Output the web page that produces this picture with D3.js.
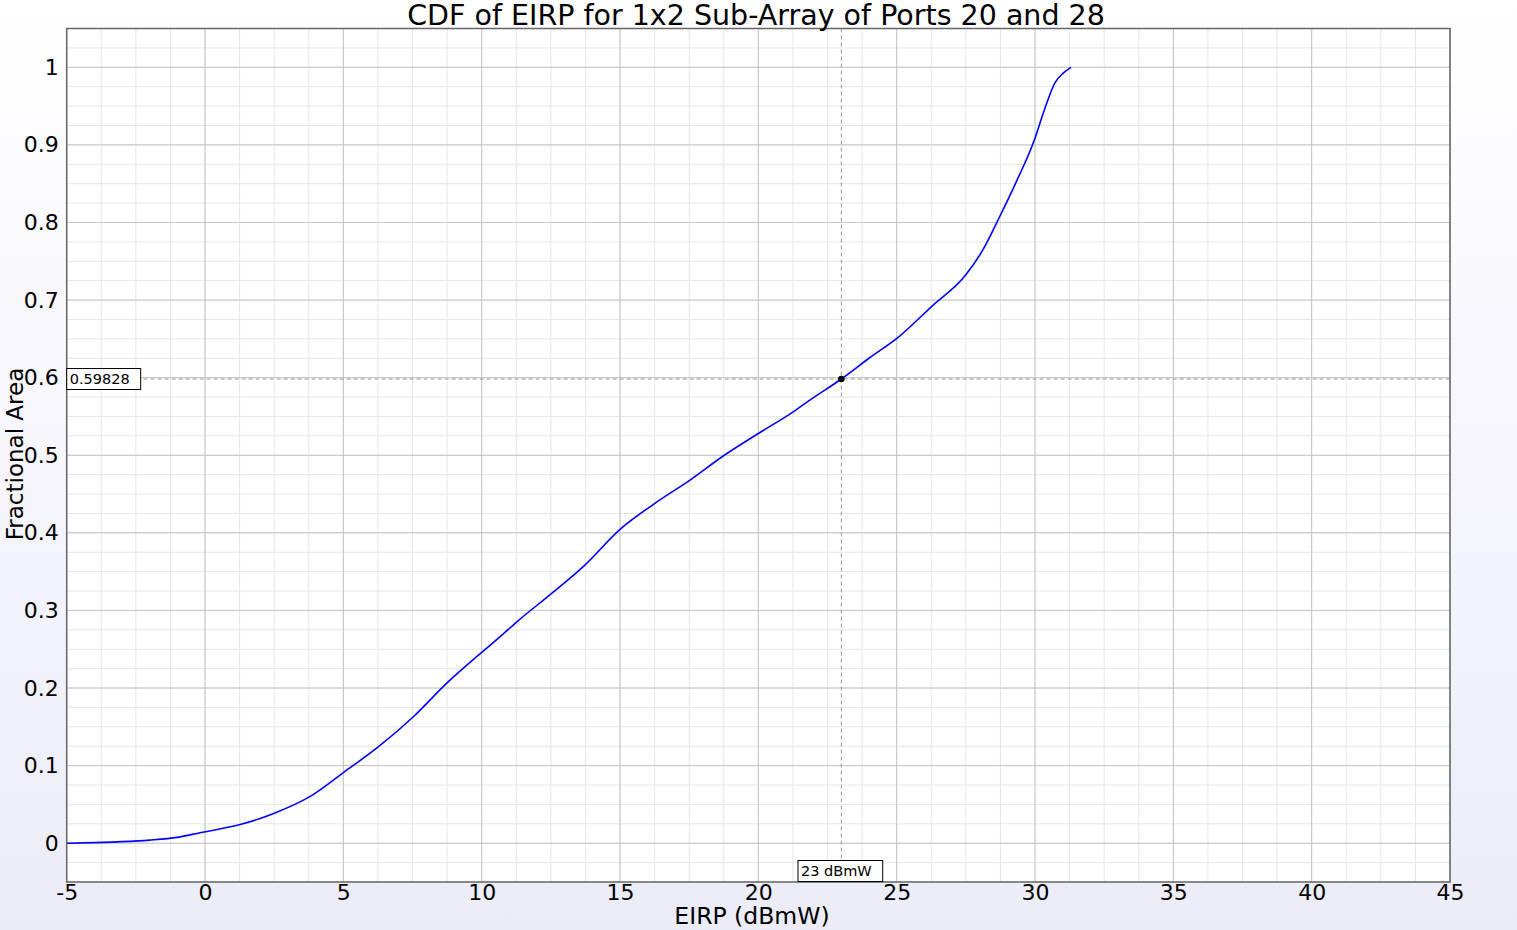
<!DOCTYPE html>
<html><head><meta charset="utf-8">
<script src="https://cdn.jsdelivr.net/npm/d3@7"></script>
<style>html,body{margin:0;padding:0;overflow:hidden;}</style>
</head><body>
<script>
const eirp = [-5, -4, -3, -2, -1, -0.18, 1.27, 2.53, 3.77, 5, 6.26, 7.53, 8.73, 10, 10.66, 11.26, 12.53, 13.73, 15, 16.26, 17.53, 18.73, 20, 21.26, 21.86, 23, 24, 25.12, 26.26, 27.5, 28.12, 28.73, 29.33, 30, 30.3, 30.72, 31.02, 31.3];
const cdf  = [0, 0.0008, 0.002, 0.004, 0.0075, 0.0135, 0.024, 0.039, 0.0597, 0.091, 0.124, 0.163, 0.206, 0.246, 0.266, 0.285, 0.322, 0.3585, 0.4045, 0.438, 0.468, 0.499, 0.528, 0.556, 0.571, 0.59828, 0.625, 0.654, 0.6916, 0.7325, 0.765, 0.808, 0.853, 0.9086, 0.941, 0.98, 0.9925, 1.0];
const xTicks = [-5, 0, 5, 10, 15, 20, 25, 30, 35, 40, 45];
const yTicks = [0, 0.1, 0.2, 0.3, 0.4, 0.5, 0.6, 0.7, 0.8, 0.9, 1];
const markerX = 23, markerY = 0.59828;
const markerXLabel = "23 dBmW", markerYLabel = "0.59828";
const titleText = "CDF of EIRP for 1x2 Sub-Array of Ports 20 and 28";
const xLabel = "EIRP (dBmW)", yLabel = "Fractional Area";

const W = 1517, H = 930;
const m = {l: 66.7, r: 1450, t: 28.5, b: 882};
const svg = d3.select("body").append("svg").attr("width", W).attr("height", H)
  .style("font-family", "DejaVu Sans, sans-serif");
const defs = svg.append("defs");
const g = defs.append("linearGradient").attr("id","bg").attr("x1",0).attr("y1",0).attr("x2",0).attr("y2",1);
g.append("stop").attr("offset","0%").attr("stop-color","#ffffff");
g.append("stop").attr("offset","100%").attr("stop-color","#ececf8");
svg.append("rect").attr("width",W).attr("height",H).attr("fill","url(#bg)");

const x = d3.scaleLinear().domain([-5, 45]).range([m.l, m.r]);
const y = d3.scaleLinear().domain([-0.05, 1.05]).range([m.b, m.t]);

svg.append("rect").attr("x",m.l).attr("y",m.t).attr("width",m.r-m.l).attr("height",m.b-m.t).attr("fill","#fff");

// minor grid
const xMinor = d3.range(-5, 45.001, 1.25);
const yMinor = d3.range(-0.05, 1.0501, 0.025);
svg.append("g").selectAll("line").data(xMinor).join("line")
  .attr("x1",d=>x(d)).attr("x2",d=>x(d)).attr("y1",m.t).attr("y2",m.b)
  .attr("stroke","#e6e6e6").attr("stroke-width",1);
svg.append("g").selectAll("line").data(yMinor).join("line")
  .attr("y1",d=>y(d)).attr("y2",d=>y(d)).attr("x1",m.l).attr("x2",m.r)
  .attr("stroke","#e6e6e6").attr("stroke-width",1);
// major grid
svg.append("g").selectAll("line").data(xTicks).join("line")
  .attr("x1",d=>x(d)).attr("x2",d=>x(d)).attr("y1",m.t).attr("y2",m.b)
  .attr("stroke","#c4c4c4").attr("stroke-width",1);
svg.append("g").selectAll("line").data(yTicks).join("line")
  .attr("y1",d=>y(d)).attr("y2",d=>y(d)).attr("x1",m.l).attr("x2",m.r)
  .attr("stroke","#c4c4c4").attr("stroke-width",1);

// axes
const xa = svg.append("g").attr("transform",`translate(0,${m.b})`)
  .call(d3.axisBottom(x).tickValues(xTicks).tickSize(0).tickPadding(2).tickFormat(d=>String(d)));
xa.select(".domain").remove();
xa.selectAll("text").attr("font-size",22).attr("fill","#000").attr("font-family","DejaVu Sans, sans-serif");
const ya = svg.append("g").attr("transform",`translate(${m.l},0)`)
  .call(d3.axisLeft(y).tickValues(yTicks).tickSize(0).tickPadding(8).tickFormat(d=>d===0?"0":d===1?"1":d3.format(".1f")(d)));
ya.select(".domain").remove();
ya.selectAll("text").attr("font-size",22).attr("fill","#000").attr("font-family","DejaVu Sans, sans-serif");

// marker lines
svg.append("line").attr("x1",m.l).attr("x2",m.r).attr("y1",y(markerY)).attr("y2",y(markerY))
  .attr("stroke","#999").attr("stroke-dasharray","4,3").attr("stroke-width",1);
svg.append("line").attr("x1",x(markerX)).attr("x2",x(markerX)).attr("y1",m.t).attr("y2",m.b)
  .attr("stroke","#999").attr("stroke-dasharray","4,3").attr("stroke-width",1);

// curve
const pts = eirp.map((v,i)=>[v,cdf[i]]);
svg.append("path").datum(pts)
  .attr("d", d3.line().x(d=>x(d[0])).y(d=>y(d[1])).curve(d3.curveMonotoneX))
  .attr("fill","none").attr("stroke","#0000ff").attr("stroke-width",1.6);

svg.append("circle").attr("cx",x(markerX)).attr("cy",y(markerY)).attr("r",3.2).attr("fill","#000");

// border
svg.append("rect").attr("x",m.l).attr("y",m.t).attr("width",m.r-m.l).attr("height",m.b-m.t)
  .attr("fill","none").attr("stroke","#666").attr("stroke-width",1.5);

// annotation boxes
function box(cx, cy, text, anchorLeft) {
  const bg = svg.append("g");
  const r = bg.append("rect");
  const t = bg.append("text").attr("font-size",14.5).attr("fill","#000").text(text);
  const w = t.node().getComputedTextLength();
  const bw = w + 14, bh = 21;
  const bx = anchorLeft ? cx : cx - bw/2;
  r.attr("x",bx).attr("y",cy-bh/2).attr("width",bw).attr("height",bh)
    .attr("fill","#fff").attr("stroke","#000").attr("stroke-width",1);
  t.attr("x",bx+3).attr("y",cy+5);
}
box(m.l, y(markerY), markerYLabel, true);
box(x(markerX) - 1, m.b - 11, markerXLabel, false);

// titles
svg.append("text").attr("x",756).attr("y",25).attr("text-anchor","middle")
  .attr("font-size",28.5).attr("fill","#000").text(titleText);
svg.append("text").attr("x",752).attr("y",924).attr("text-anchor","middle")
  .attr("font-size",23.5).attr("fill","#000").text(xLabel);
svg.append("text").attr("transform",`translate(22.5,454) rotate(-90)`).attr("text-anchor","middle")
  .attr("font-size",23).attr("fill","#000").text(yLabel);
</script>
</body></html>
